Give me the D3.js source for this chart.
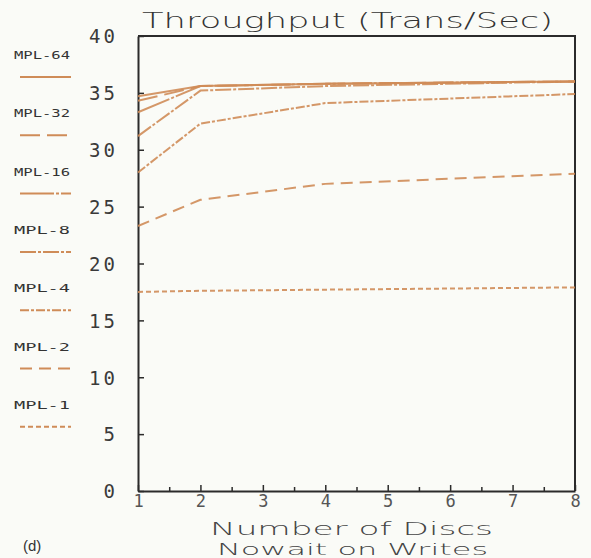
<!DOCTYPE html>
<html><head><meta charset="utf-8">
<script src="https://cdn.jsdelivr.net/npm/d3@7"></script>
<style>
html,body{margin:0;padding:0;background:#fafbf7;}
svg{display:block;}
</style></head>
<body>
<script>
const discs = [1, 2, 4, 8];
const seriesNames = ["MPL-64", "MPL-32", "MPL-16", "MPL-8", "MPL-4", "MPL-2", "MPL-1"];
const mpl64 = [34.7, 35.6, 35.8, 36.0];
const mpl32 = [34.3, 35.6, 35.8, 36.0];
const mpl16 = [33.3, 35.6, 35.8, 36.0];
const mpl8  = [31.2, 35.2, 35.6, 36.0];
const mpl4  = [28.0, 32.3, 34.1, 34.9];
const mpl2  = [23.3, 25.6, 27.0, 27.9];
const mpl1  = [17.5, 17.6, 17.7, 17.9];
const yTicks = [0, 5, 10, 15, 20, 25, 30, 35, 40];
const xTicks = [1, 2, 3, 4, 5, 6, 7, 8];
const xMinorTicks = [1.5, 2.5, 3.5, 4.5, 5.5, 6.5, 7.5];
const titleText = "Throughput (Trans/Sec)";
const xTitle1 = "Number of Discs";
const xTitle2 = "Nowait on Writes";
const panelLabel = "(d)";

const seriesValues = [mpl64, mpl32, mpl16, mpl8, mpl4, mpl2, mpl1];
const dashes = ["none", "20,7", "34,2,3,2", "16,2,3,2", "9,2,3,2", "12,7", "5,3"];

const W = 591, H = 558;
const svg = d3.select("body").append("svg").attr("width", W).attr("height", H);
svg.append("rect").attr("width", W).attr("height", H).attr("fill", "#fafbf7");

const x = d3.scaleLinear().domain([1, 8]).range([138, 575]);
const y = d3.scaleLinear().domain([0, 40]).range([491, 36]);
const lineCol = "#cf8c58";
const axisCol = "#2b2b2b";
const tickFont = "'DejaVu Sans Mono', monospace";

// frame (top and right)
svg.append("path")
  .attr("d", `M${x(1)},${y(40)}H${x(8)}V${y(0)}`)
  .attr("fill", "none").attr("stroke", axisCol).attr("stroke-width", 2);

// y axis
const yAxis = svg.append("g").attr("transform", `translate(${x(1)},0)`)
  .call(d3.axisLeft(y).tickValues(yTicks).tickSizeInner(-6).tickSizeOuter(0).tickPadding(20).tickFormat(d3.format("d")));
yAxis.select(".domain").attr("stroke", axisCol).attr("stroke-width", 2);
yAxis.selectAll(".tick line").attr("stroke", axisCol).attr("stroke-width", 1.5);
yAxis.selectAll(".tick text").attr("font-family", tickFont).attr("font-size", 19)
  .attr("fill", "#3a3a3a").attr("letter-spacing", 3).attr("dy", "0.36em");

// x axis
const xAxis = svg.append("g").attr("transform", `translate(0,${y(0)})`)
  .call(d3.axisBottom(x).tickValues(xTicks).tickSizeInner(-6).tickSizeOuter(0).tickPadding(4).tickFormat(d3.format("d")));
xAxis.select(".domain").attr("stroke", axisCol).attr("stroke-width", 2);
xAxis.selectAll(".tick line").attr("stroke", axisCol).attr("stroke-width", 1.5);
xAxis.selectAll(".tick text").attr("font-family", tickFont).attr("font-size", 17)
  .attr("fill", "#555");
const xMinor = svg.append("g").attr("transform", `translate(0,${y(0)})`)
  .call(d3.axisBottom(x).tickValues(xMinorTicks).tickSizeInner(-4).tickSizeOuter(0).tickFormat(""));
xMinor.select(".domain").remove();
xMinor.selectAll(".tick line").attr("stroke", axisCol).attr("stroke-width", 1.5);

// lines
const line = d3.line().x((d, i) => x(discs[i])).y(d => y(d));
seriesValues.forEach((vals, i) => {
  svg.append("path").datum(vals).attr("d", line)
    .attr("fill", "none").attr("stroke", lineCol).attr("stroke-width", 2)
    .attr("stroke-dasharray", dashes[i]).attr("opacity", 0.9);
});

// legend
const legY0 = 55, legStep = 58.3;
seriesNames.forEach((name, i) => {
  const ly = legY0 + i * legStep;
  svg.append("text").attr("x", 14).attr("y", ly + 4).text(name)
    .attr("font-family", "'DejaVu Sans Mono', monospace").attr("font-size", 11)
    .attr("fill", "#333").attr("textLength", 56).attr("lengthAdjust", "spacingAndGlyphs");
  svg.append("line").attr("x1", 20).attr("x2", 71).attr("y1", ly + 22).attr("y2", ly + 22)
    .attr("stroke", lineCol).attr("stroke-width", 2).attr("stroke-dasharray", dashes[i]);
});

// titles
const thin = "'DejaVu Sans', sans-serif";
svg.append("text").attr("x", 142).attr("y", 28).text(titleText)
  .attr("font-family", thin).attr("font-weight", 200).attr("font-size", 21)
  .attr("fill", "#333").attr("textLength", 411).attr("lengthAdjust", "spacingAndGlyphs");
svg.append("text").attr("x", 210).attr("y", 535).text(xTitle1)
  .attr("font-family", thin).attr("font-weight", 200).attr("font-size", 18)
  .attr("fill", "#444").attr("textLength", 283).attr("lengthAdjust", "spacingAndGlyphs");
svg.append("text").attr("x", 217).attr("y", 555).text(xTitle2)
  .attr("font-family", thin).attr("font-weight", 200).attr("font-size", 16)
  .attr("fill", "#444").attr("textLength", 271).attr("lengthAdjust", "spacingAndGlyphs");
svg.append("text").attr("x", 23).attr("y", 551).text(panelLabel)
  .attr("font-family", "'Liberation Sans', Arial, sans-serif").attr("font-size", 15)
  .attr("fill", "#333");
</script>
</body></html>
